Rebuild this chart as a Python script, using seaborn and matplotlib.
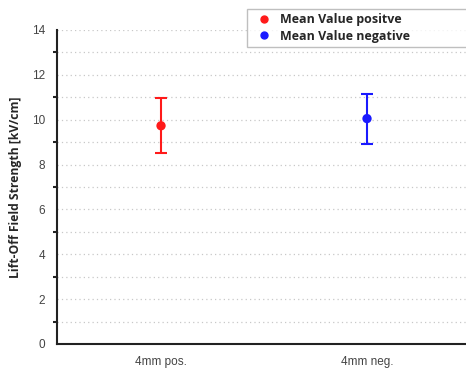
"""
Lift-off field strength, mean value with error bars
"""
import matplotlib
matplotlib.use("Agg")
import matplotlib.pyplot as plt
from matplotlib.ticker import MultipleLocator
import pandas as pd
import seaborn as sns

# data
categories = ["4mm pos.", "4mm neg."]
series_names = ["Mean Value positve", "Mean Value negative"]
mean_values = [9.73, 10.05]
err_low = [8.52, 8.93]
err_high = [10.95, 11.15]
colors = ["#ff1a1a", "#1a1aff"]

sns.set_style("white")
plt.rcParams["font.family"] = ["Liberation Sans", "DejaVu Sans"]

df = pd.DataFrame({"cat": categories, "value": mean_values, "series": series_names})

fig = plt.figure(figsize=(4.66, 3.69), dpi=100)
ax = fig.add_axes([57 / 466, 25 / 369, 413 / 466, 314 / 369])

# error bars
for i, (lo, hi, c) in enumerate(zip(err_low, err_high, colors)):
    m = mean_values[i]
    ax.errorbar(i, m, yerr=[[m - lo], [hi - m]], fmt="none", ecolor=c,
                elinewidth=1.5, capsize=4, capthick=1.5, zorder=3)

sns.scatterplot(data=df, x="cat", y="value", hue="series",
                palette=dict(zip(series_names, colors)), s=45,
                edgecolor="none", ax=ax, zorder=4, legend=False)

ax.set_xlim(-0.505, 1.5)
ax.set_ylim(0, 14)
ax.yaxis.set_major_locator(MultipleLocator(2))
ax.yaxis.set_minor_locator(MultipleLocator(1))
ax.grid(True, which="both", axis="y", linestyle=(0, (1, 2.5)),
        color="#c8c8c8", linewidth=0.9)
ax.set_axisbelow(True)

for side in ["top", "right"]:
    ax.spines[side].set_visible(False)
for side in ["left", "bottom"]:
    ax.spines[side].set_linewidth(1.5)
    ax.spines[side].set_color("#222222")

ax.tick_params(axis="both", which="major", direction="out", length=5,
               width=1.5, color="#222222", labelsize=8.5, labelcolor="#444444")
ax.tick_params(axis="y", which="minor", direction="out", length=3,
               width=1.5, color="#222222", left=True)
ax.set_xlabel("")
ax.set_ylabel("Lift-Off Field Strength [kV/cm]", fontsize=8.7,
              fontweight="bold", family="Open Sans", labelpad=7)

# legend box
handles = [plt.Line2D([], [], marker="o", linestyle="none", color=c,
                      markersize=5) for c in colors]
fig.legend(handles, series_names, loc="upper left",
           bbox_to_anchor=(247 / 466, 1 - 9 / 369, 0.5, 0),
           mode="expand", borderaxespad=0, frameon=True, fancybox=False,
           edgecolor="#b0b0b0", handletextpad=0.3, handlelength=2.0,
           borderpad=0.36, labelspacing=0.25,
           prop={"family": "Open Sans", "weight": "bold", "size": 9})

plt.savefig("out.png", dpi=100)
